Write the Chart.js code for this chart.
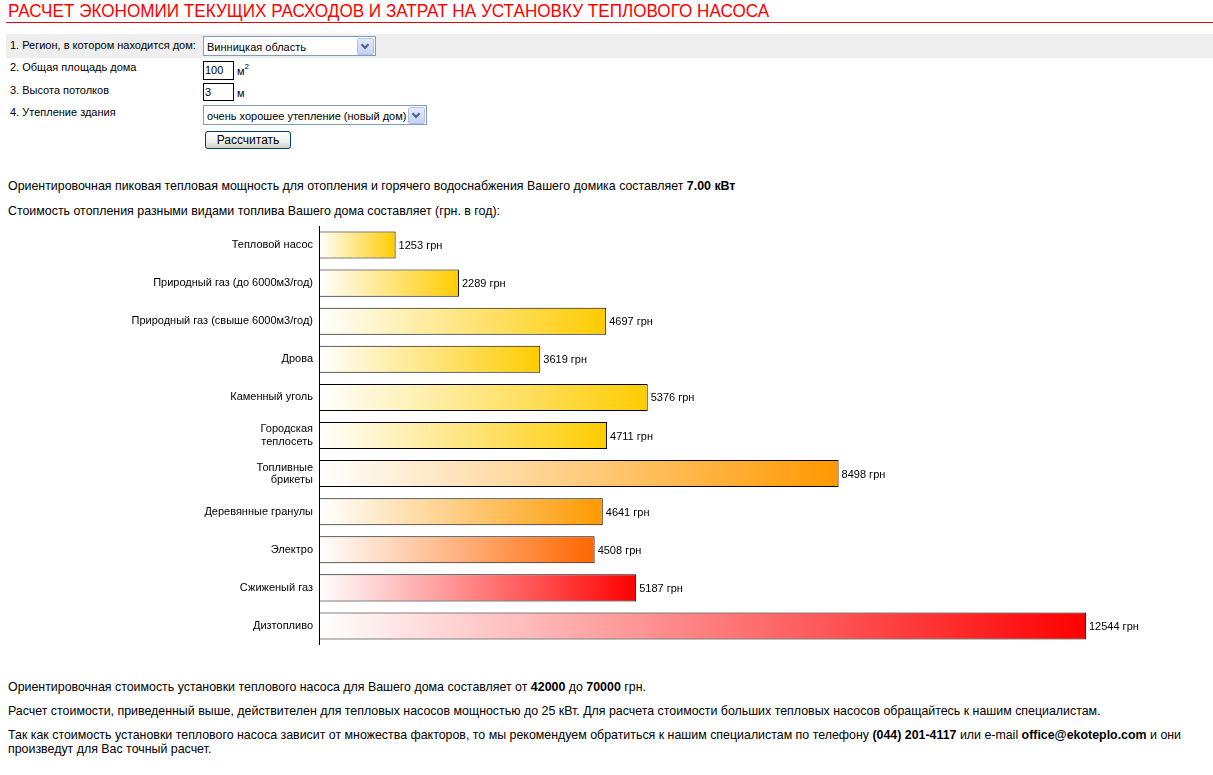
<!DOCTYPE html>
<html><head><meta charset="utf-8">
<script src="https://cdn.jsdelivr.net/npm/chart.js@4/dist/chart.umd.min.js"></script>
<style>
body{margin:0;width:1213px;height:775px;position:relative;background:#fff;font-family:"Liberation Sans",Arial,sans-serif;color:#000;overflow:hidden}
.a{position:absolute;white-space:nowrap;line-height:14px}
#title{left:8px;top:1px;font-size:18px;line-height:20px;color:#f00;transform:scaleX(0.951);transform-origin:0 0}
#rule{position:absolute;left:6px;top:22px;width:1207px;height:1px;background:#e00}
#row1{position:absolute;left:6px;top:34px;width:1207px;height:24px;background:#eeeeee}
.lbl{font-size:11px}
.sel{position:absolute;height:19px;border:1px solid #7f9db9;background:#fff;font-size:11px;line-height:19px;box-sizing:border-box}
.sel span{position:absolute;left:3px;top:1px;line-height:18px}
.dd{position:absolute;right:1px;top:1px;width:15px;height:15px;background:linear-gradient(#e6ecfb,#c3d1f4);border:1px solid #b3c2ea;border-radius:2px}
.dd:after{content:"";position:absolute;left:4px;top:3px;width:4px;height:4px;border-right:2px solid #4d6185;border-bottom:2px solid #4d6185;transform:rotate(45deg)}
.inp{position:absolute;width:31px;height:19px;border:1px solid #000;box-sizing:border-box;font-size:11px;line-height:17px;padding-left:1px;background:#fff}
#btn{position:absolute;left:205px;top:131px;width:86px;height:18px;box-sizing:border-box;border:1px solid #003c74;border-radius:3px;background:linear-gradient(#fff,#f0f0ea 60%,#d6d0c5);font-size:12px;line-height:16px;text-align:center}
.txt{font-size:12.4px}
#wrap{position:absolute;left:0;top:226px;width:1213px;height:419px}
</style></head><body>
<div class="a" id="title">РАСЧЕТ ЭКОНОМИИ ТЕКУЩИХ РАСХОДОВ И ЗАТРАТ НА УСТАНОВКУ ТЕПЛОВОГО НАСОСА</div>
<div id="rule"></div>
<div id="row1"></div>
<div class="a lbl" style="left:10px;top:38px">1. Регион, в котором находится дом:</div>
<div class="sel" style="left:203px;top:36px;width:173px;height:20px"><span>Винницкая область</span><div class="dd"></div></div>
<div class="a lbl" style="left:10px;top:60px">2. Общая площадь дома</div>
<div class="inp" style="left:203px;top:61px">100</div>
<div class="a lbl" style="left:237px;top:64px">м<sup style="font-size:8px;vertical-align:6px;line-height:0">2</sup></div>
<div class="a lbl" style="left:10px;top:83px">3. Высота потолков</div>
<div class="inp" style="left:203px;top:83px;height:18px">3</div>
<div class="a lbl" style="left:237px;top:86px">м</div>
<div class="a lbl" style="left:10px;top:105px">4. Утепление здания</div>
<div class="sel" style="left:203px;top:105px;width:224px;height:20px"><span>очень хорошее утепление (новый дом)</span><div class="dd"></div></div>
<div id="btn">Рассчитать</div>
<div class="a txt" style="left:8px;top:179px">Ориентировочная пиковая тепловая мощность для отопления и горячего водоснабжения Вашего домика составляет <b>7.00 кВт</b></div>
<div class="a txt" style="left:8px;top:204px">Стоимость отопления разными видами топлива Вашего дома составляет (грн. в год):</div>
<div id="wrap"><canvas id="c"></canvas></div>
<div class="a txt" style="left:8px;top:680px">Ориентировочная стоимость установки теплового насоса для Вашего дома составляет от <b>42000</b> до <b>70000</b> грн.</div>
<div class="a txt" style="left:8px;top:704px">Расчет стоимости, приведенный выше, действителен для тепловых насосов мощностью до 25 кВт. Для расчета стоимости больших тепловых насосов обращайтесь к нашим специалистам.</div>
<div class="a txt" style="left:8px;top:728px">Так как стоимость установки теплового насоса зависит от множества факторов, то мы рекомендуем обратиться к нашим специалистам по телефону <b>(044) 201-4117</b> или e-mail <b>office@ekoteplo.com</b> и они</div>
<div class="a txt" style="left:8px;top:742px">произведут для Вас точный расчет.</div>
<script>
const categories = ["Тепловой насос", "Природный газ (до 6000м3/год)", "Природный газ (свыше 6000м3/год)", "Дрова", "Каменный уголь", ["Городская","теплосеть"], ["Топливные","брикеты"], "Деревянные гранулы", "Электро", "Сжиженый газ", "Дизтопливо"];
const costs = [1253, 2289, 4697, 3619, 5376, 4711, 8498, 4641, 4508, 5187, 12544];
const endColors = ["#ffcc00","#ffcc00","#ffcc00","#ffcc00","#ffcc00","#ffcc00","#ff9900","#ff9900","#ff6600","#ff0000","#ff0000"];
const unit = " грн";
const xMax = 14000;

const valueLabels = {
  id: "valueLabels",
  afterDatasetsDraw(chart) {
    const ctx = chart.ctx;
    const meta = chart.getDatasetMeta(0);
    ctx.save();
    ctx.font = '11px "Liberation Sans", Arial, sans-serif';
    ctx.fillStyle = "#000";
    ctx.textAlign = "left";
    ctx.textBaseline = "middle";
    meta.data.forEach((bar, i) => {
      ctx.fillText(costs[i] + unit, bar.x + 3, bar.y + 1);
    });
    ctx.restore();
  }
};

new Chart(document.getElementById("c"), {
  type: "bar",
  data: {
    labels: categories,
    datasets: [{
      data: costs,
      backgroundColor: (c) => {
        const chart = c.chart, xs = chart.scales.x;
        const end = endColors[c.dataIndex];
        if (!xs || !chart.chartArea || c.raw == null) return end;
        const x0 = xs.getPixelForValue(0), x1 = xs.getPixelForValue(c.raw);
        const g = chart.ctx.createLinearGradient(x0, 0, x1, 0);
        g.addColorStop(0, "#ffffff");
        g.addColorStop(1, end);
        return g;
      },
      borderColor: "#000",
      borderWidth: 1,
      borderSkipped: false,
      barPercentage: 0.71,
      categoryPercentage: 1
    }]
  },
  options: {
    indexAxis: "y",
    responsive: true,
    maintainAspectRatio: false,
    animation: false,
    layout: { padding: { left: 0, right: 38, top: 0, bottom: 0 } },
    plugins: { legend: { display: false }, tooltip: { enabled: false } },
    scales: {
      x: { display: false, min: 0, max: xMax },
      y: {
        grid: { display: false, drawTicks: false },
        border: { display: true, color: "#000", width: 1 },
        ticks: { color: "#000", padding: 6, font: { family: '"Liberation Sans", Arial, sans-serif', size: 11, lineHeight: 1.1 } },
        afterFit(scale) { scale.width = 319; scale.paddingTop = 0; scale.paddingBottom = 0; }
      }
    }
  },
  plugins: [valueLabels]
});
</script>
</body></html>
